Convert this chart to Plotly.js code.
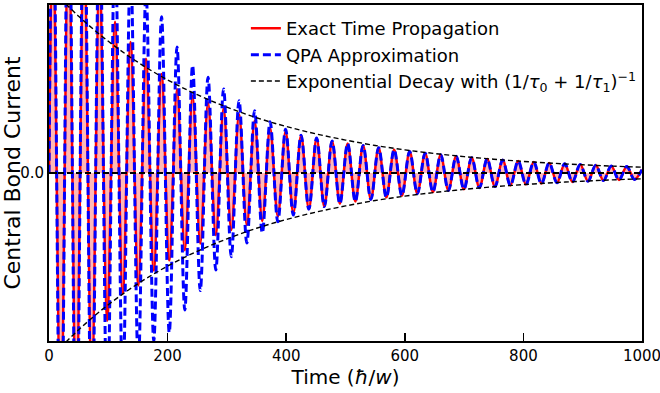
<!DOCTYPE html>
<html>
<head>
<meta charset="utf-8">
<script src="https://cdn.plot.ly/plotly-3.0.1.min.js"></script>
<style>html,body{margin:0;padding:0;background:#fff;}#chart{width:660px;height:393px;}</style>
</head>
<body>
<div id="chart"></div>
<script>
// Times of the successive extrema (peak, trough, peak, ...)
const extremaT = [0,
  6.7, 19.8, 32.9, 45.9, 59.0, 72.1, 85.2, 98.2, 111.3, 124.4,
  137.5, 150.6, 163.6, 176.7, 189.8, 202.8, 215.9, 229.0, 242.1, 255.1,
  268.2, 281.3, 294.4, 307.4, 320.5, 333.6, 346.7, 359.7, 372.8, 385.9,
  399.0, 412.0, 425.1, 438.2, 451.3, 464.3, 477.4, 490.5, 503.6, 516.6,
  529.7, 542.8, 555.9, 568.9, 582.0, 595.1, 608.2, 621.2, 634.3, 647.4,
  660.5, 673.5, 686.6, 699.7, 712.8, 725.8, 738.9, 752.0, 765.1, 778.1,
  791.2, 804.3, 817.4, 830.4, 843.5, 856.6, 869.7, 882.7, 895.8, 908.9,
  922.0, 935.0, 948.1, 961.2, 974.3, 987.3, 1000];

// Exact time propagation: value at each extremum
const exactVals = [0,
  1.50, -1.55, 1.50, -1.45, 1.40, -1.30, 1.20, -0.88, 0.90, -0.72,
  0.78, -0.67, 0.68, -0.58, 0.59, -0.52, 0.50, -0.46, 0.46, -0.42,
  0.42, -0.37, 0.385, -0.34, 0.35, -0.31, 0.31, -0.285, 0.27, -0.26,
  0.25, -0.24, 0.225, -0.215, 0.208, -0.20, 0.19, -0.183, 0.176, -0.17,
  0.164, -0.157, 0.151, -0.145, 0.139, -0.134, 0.128, -0.123, 0.118, -0.113,
  0.108, -0.104, 0.099, -0.096, 0.091, -0.088, 0.084, -0.081, 0.077, -0.074,
  0.071, -0.068, 0.065, -0.063, 0.060, -0.058, 0.055, -0.053, 0.050, -0.049,
  0.046, -0.045, 0.042, -0.041, 0.039, -0.038, 0.02];

// QPA approximation: value at each extremum
const qpaVals = [0,
  1.90, -2.00, 2.00, -1.90, 1.80, -1.70, 1.60, -1.50, 1.40, -1.30,
  1.25, -1.15, 1.08, -1.00, 0.93, -0.95, 0.75, -0.815, 0.64, -0.70,
  0.57, -0.577, 0.50, -0.498, 0.43, -0.417, 0.37, -0.357, 0.305, -0.29,
  0.26, -0.25, 0.225, -0.215, 0.208, -0.20, 0.19, -0.183, 0.176, -0.17,
  0.164, -0.157, 0.151, -0.145, 0.139, -0.134, 0.128, -0.123, 0.118, -0.113,
  0.108, -0.104, 0.099, -0.096, 0.091, -0.088, 0.084, -0.081, 0.077, -0.074,
  0.071, -0.068, 0.065, -0.063, 0.060, -0.058, 0.055, -0.053, 0.050, -0.049,
  0.046, -0.045, 0.042, -0.041, 0.039, -0.038, 0.02];

// Exponential decay envelope read at regular times
const envT = [0, 50, 100, 150, 200, 250, 300, 350, 400, 450, 500,
  550, 600, 650, 700, 750, 800, 850, 900, 950, 1000];
const envUpper = [1.11, 0.933, 0.784, 0.659, 0.554, 0.466, 0.392, 0.329, 0.277, 0.233, 0.196,
  0.164, 0.138, 0.116, 0.0977, 0.0821, 0.069, 0.058, 0.0488, 0.041, 0.0345];
const envLower = [-1.11, -0.933, -0.784, -0.659, -0.554, -0.466, -0.392, -0.329, -0.277, -0.233, -0.196,
  -0.164, -0.138, -0.116, -0.0977, -0.0821, -0.069, -0.058, -0.0488, -0.041, -0.0345];

const xTicks = [0, 200, 400, 600, 800, 1000];
const yTicks = [0];
const yTickText = ['0.0'];

const traces = [
  {x: extremaT, y: exactVals, type: 'scatter', mode: 'lines', showlegend: false, hoverinfo: 'skip',
   line: {color: 'rgba(0,0,0,0)', width: 0, shape: 'spline', smoothing: 1},
   fill: 'tozeroy', fillcolor: 'rgba(255,0,0,0.28)'},
  {x: extremaT, y: exactVals, type: 'scatter', mode: 'lines', name: 'Exact Time Propagation',
   legendgroup: 'a', line: {color: '#ff0000', width: 2.5, shape: 'spline', smoothing: 1}},
  {x: extremaT, y: qpaVals, type: 'scatter', mode: 'lines', name: 'QPA Approximation',
   legendgroup: 'b', line: {color: '#0000ff', width: 3, dash: '8px,4px', shape: 'spline', smoothing: 1}},
  {x: envT, y: envUpper, type: 'scatter', mode: 'lines',
   name: 'Exponential Decay with (1/<i>τ</i><sub>0</sub> + 1/<i>τ</i><sub>1</sub>)<sup>−1</sup>',
   legendgroup: 'c', line: {color: '#000000', width: 1.4, dash: '5px,3px', shape: 'spline'}},
  {x: envT, y: envLower, type: 'scatter', mode: 'lines', showlegend: false,
   legendgroup: 'c', line: {color: '#000000', width: 1.4, dash: '5px,3px', shape: 'spline'}}
];

const layout = {
  width: 660, height: 393,
  margin: {l: 49, r: 18, t: 5, b: 52},
  paper_bgcolor: '#ffffff', plot_bgcolor: '#ffffff',
  font: {family: 'DejaVu Sans, sans-serif', color: '#000000', size: 15},
  showlegend: true,
  legend: {x: 0.332, y: 0.985, xanchor: 'left', yanchor: 'top', bgcolor: 'rgba(0,0,0,0)',
    font: {size: 18, family: 'DejaVu Sans, sans-serif'}, tracegroupgap: 0},
  xaxis: {range: [0, 1000], tickvals: xTicks, ticks: 'inside', ticklen: 8, tickwidth: 1.5,
    tickcolor: '#000', showline: true, linecolor: '#000', linewidth: 2, mirror: true,
    showgrid: false, zeroline: false, tickfont: {size: 15}, ticklabeloverflow: 'allow',
    title: {text: 'Time (<i>ħ</i>/<i>w</i>)', font: {size: 20}, standoff: 4}},
  yaxis: {range: [-1, 1], tickvals: yTicks, ticktext: yTickText, ticks: 'inside', ticklen: 8, tickwidth: 1.5,
    tickcolor: '#000', showline: true, linecolor: '#000', linewidth: 2, mirror: true,
    showgrid: false, zeroline: false, tickfont: {size: 15},
    title: {text: 'Central Bond Current', font: {size: 22}, standoff: 6}},
  shapes: [{type: 'line', xref: 'paper', x0: 0, x1: 1, yref: 'y', y0: 0, y1: 0,
    line: {color: '#000', width: 2, dash: '6px,3px'}, layer: 'above'}]
};

Plotly.newPlot('chart', traces, layout, {displayModeBar: false, staticPlot: true});
</script>
</body>
</html>
